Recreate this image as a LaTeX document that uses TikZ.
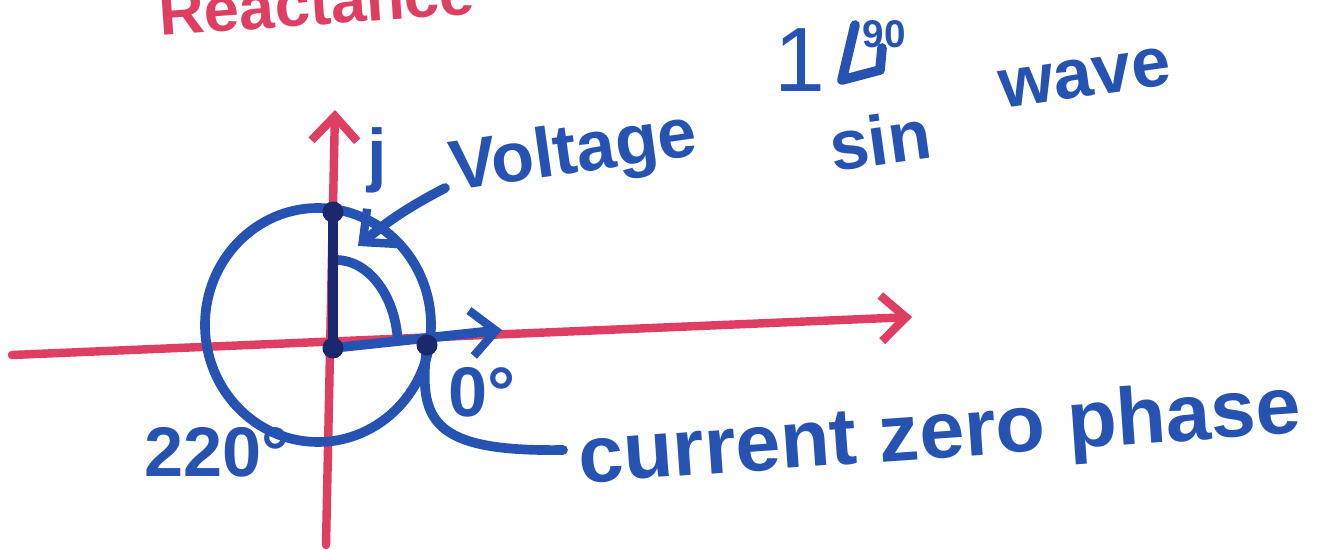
\documentclass[tikz,border=0pt]{standalone}
\usepackage{fontspec}
\setmainfont{Liberation Sans}
\usetikzlibrary{arrows.meta}
\definecolor{penred}{RGB}{222,62,98}
\definecolor{penblue}{RGB}{38,82,178}
\definecolor{pennavy}{RGB}{28,40,110}
\tikzset{
  axisline/.style={draw=penred, line width=4.8pt, line cap=round, line join=round},
  penline/.style={draw=penblue, line width=5.5pt, line cap=round, line join=round},
  barb/.style={-{Straight Barb[length=14pt,width=26pt,line width=4.8pt]}},
  hand/.style={text=penblue, font=\fontsize{40}{48}\selectfont\bfseries, inner sep=0pt},
  dotmark/.style={fill=pennavy, draw=none, circle, minimum size=12pt, inner sep=0pt}
}
\begin{document}
\begin{tikzpicture}[x=0.02cm, y=-0.02cm]
\useasboundingbox[fill=white] (0,0) rectangle (1325,550);
% coordinates
\coordinate (xl) at (12,355);
\coordinate (xr) at (912,317);
\coordinate (yb) at (326,545);
\coordinate (yt) at (335,110);
\coordinate (O) at (333,348);
\coordinate (V) at (333,212);
\coordinate (I) at (502,330);
\coordinate (C0) at (427,345);
\coordinate (varrS) at (445,188);
\coordinate (varrE) at (358,246);
\coordinate (leadS) at (563,450);
% axes
\draw[axisline, barb] (xl) -- (xr);
\draw[axisline, barb] (yb) -- (yt);
% big circle
\draw[penline] (318,325) ellipse [x radius=113, y radius=117];
% inner arc
\draw[penline] (336,260) arc [start angle=-90, end angle=-5, x radius=62, y radius=88];
% voltage phasor
\draw[draw=pennavy, line width=5.5pt, line cap=round] (O) -- (V);
% current phasor
\draw[penline, barb] (O) -- (I);
% voltage pointer arrow
\draw[penline, barb] (varrS) to[bend right=6] (varrE);
% current leader
\draw[penline] (leadS) .. controls (430,452) and (418,420) .. (C0);
% dots
\node[dotmark] (dO) at (O) {};
\node[dotmark] (dV) at (V) {};
\node[dotmark] (dC0) at (C0) {};
% angle sign of 1/90
\coordinate (ang1) at (855,25);
\coordinate (ang2) at (842,80);
\coordinate (ang3) at (880,70);
\coordinate (ang4) at (882,48);
\draw[penline] (ang1) -- (ang2) -- (ang3) -- (ang4);
% texts
\node[hand, text=penred, anchor=base west, rotate=4, font=\fontsize{36}{44}\selectfont\bfseries] (react) at (160,36) {Reactance};
\node[hand] (j) at (377,160) {j};
\node[hand, rotate=8] (volt) at (574,155) {Voltage};
\node[hand, font=\fontsize{52}{60}\selectfont] (mag) at (800,60) {1};
\node[hand, font=\fontsize{22}{26}\selectfont\bfseries] (deg90) at (884,34) {90};
\node[hand, rotate=8] (sin) at (880,140) {sin};
\node[hand, rotate=8] (wave) at (1085,78) {wave};
\node[hand] (zero) at (482,392) {0°};
\node[hand, anchor=east] (d220) at (290,452) {220°};
\node[hand, rotate=4, font=\fontsize{46}{54}\selectfont\bfseries] (cur) at (940,437) {current zero phase};
\end{tikzpicture}
\end{document}
